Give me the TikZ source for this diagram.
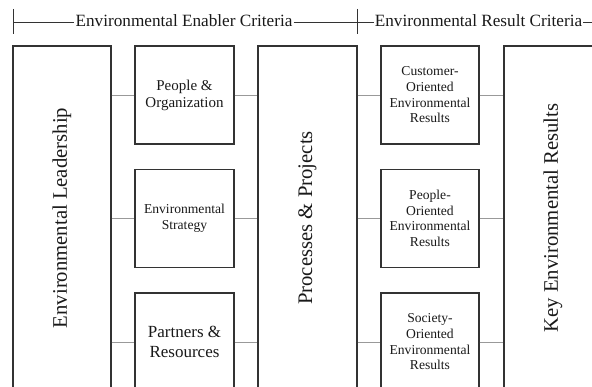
\documentclass[tikz,border=0pt]{standalone}
\usepackage{fontspec}
\usepackage{graphicx}
\setmainfont{Liberation Serif}
\begin{document}
\begin{tikzpicture}[x=1pt,y=1pt,
 box/.style={draw=black!80, line width=1.1pt, inner sep=0pt, align=center, text=black!90},
 smallbox/.style={box, minimum width=99pt, minimum height=98pt},
 bigbox/.style={box, minimum width=98pt, minimum height=344pt, font=\fontsize{20.7}{24}\selectfont},
 link/.style={draw=black!40, line width=0.8pt},
 hdr/.style={font=\fontsize{17.2}{20}\selectfont, inner xsep=1pt, inner ysep=0pt, anchor=base, text=black!90},
 tickline/.style={draw=black!80, line width=1pt}]
\useasboundingbox (0,0) rectangle (592,387);
\clip (0,0) rectangle (592,387);
% header
\coordinate (tL1) at (13,378);
\coordinate (tL2) at (13,353);
\coordinate (tM1) at (357,378);
\coordinate (tM2) at (357,353);
\coordinate (hL) at (13,364.5);
\coordinate (hM) at (357,364.5);
\coordinate (hR) at (592,364.5);
\node[hdr] (h1) at (184,360) {Environmental Enabler Criteria};
\node[hdr] (h2) at (478.5,360) {Environmental Result Criteria};
\draw[tickline] (tL1) -- (tL2);
\draw[tickline] (tM1) -- (tM2);
\draw[tickline] (hL) -- (h1.west |- hL);
\draw[tickline] (h1.east |- hL) -- (hM) -- (h2.west |- hM);
\draw[tickline] (h2.east |- hR) -- (hR);
% big boxes
\node[bigbox] (lead) at (62,169) {\rotatebox{90}{Environmental Leadership}};
\node[bigbox, minimum width=99pt] (proc) at (307.5,169) {\rotatebox{90}{Processes \& Projects}};
\node[bigbox] (key) at (553,169) {\rotatebox{90}{Key Environmental Results}};
% enabler boxes
\node[smallbox, font=\fontsize{15}{17}\selectfont] (e1) at (184.5,292) {People \&\\Organization};
\node[smallbox, font=\fontsize{13.6}{16.5}\selectfont] (e2) at (184.5,168.5) {Environmental\\Strategy};
\node[smallbox, font=\fontsize{17}{20}\selectfont] (e3) at (184.5,45) {Partners \&\\Resources};
% result boxes
\node[smallbox, minimum width=98pt, font=\fontsize{13.6}{15.7}\selectfont] (r1) at (430,292) {Customer-\\Oriented\\Environmental\\Results};
\node[smallbox, minimum width=98pt, font=\fontsize{13.6}{15.7}\selectfont] (r2) at (430,168.5) {People-\\Oriented\\Environmental\\Results};
\node[smallbox, minimum width=98pt, font=\fontsize{13.6}{15.7}\selectfont] (r3) at (430,45) {Society-\\Oriented\\Environmental\\Results};
% links
\foreach \s/\c/\r/\t in {lead/e1/r1/key, lead/e2/r2/key, lead/e3/r3/key}{
  \draw[link] (\c.west -| \s.east) -- (\c.west);
  \draw[link] (\c.east) -- (\c.east -| proc.west);
  \draw[link] (\r.west -| proc.east) -- (\r.west);
  \draw[link] (\r.east) -- (\r.east -| \t.west);
}
\end{tikzpicture}
\end{document}
